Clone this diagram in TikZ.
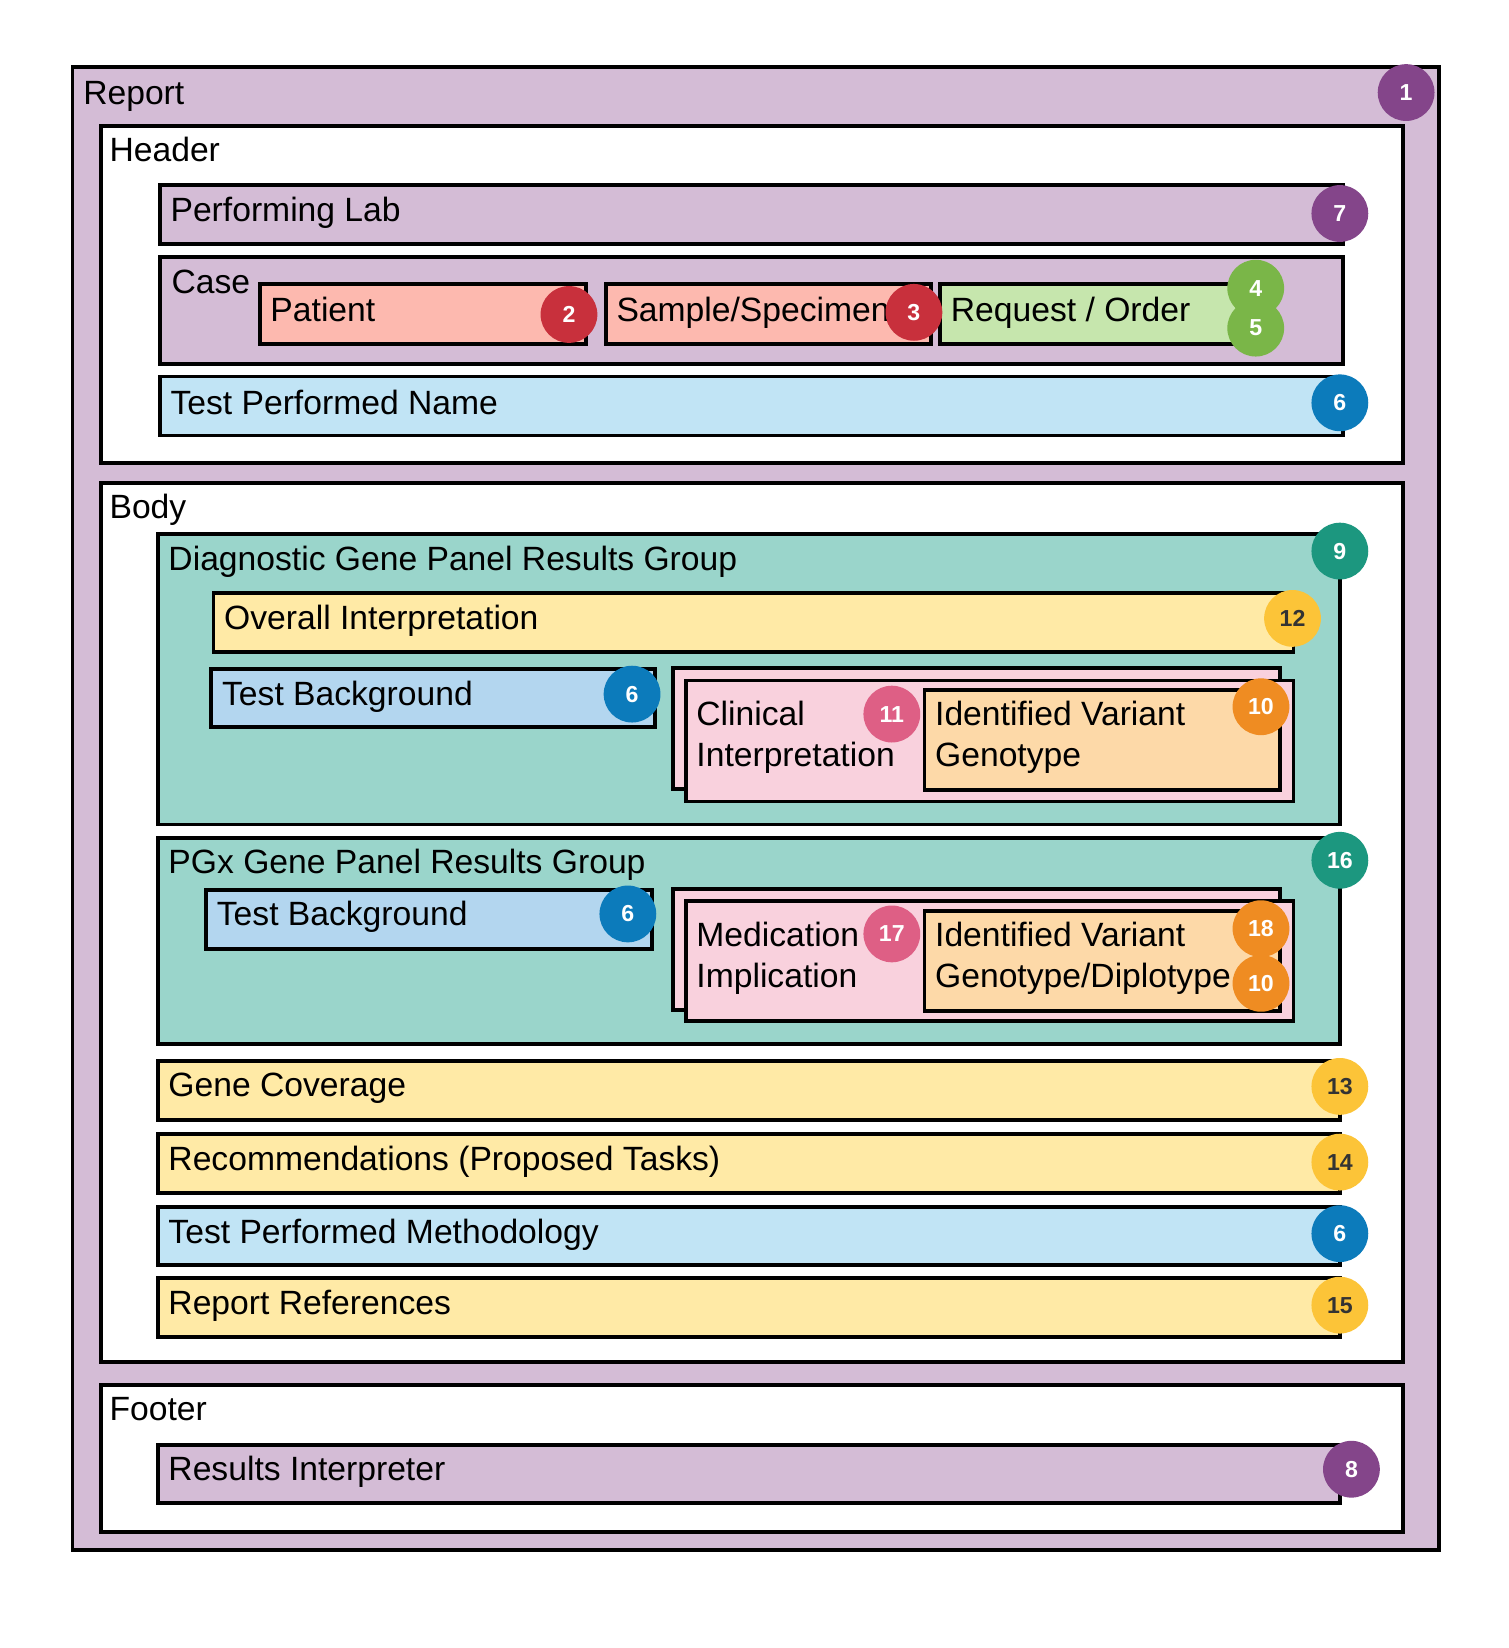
\documentclass[tikz,border=0pt]{standalone}
\usepackage{fontspec}
\setmainfont{Liberation Sans}

\definecolor{lilac}{HTML}{D4BCD6}
\definecolor{lilacdk}{HTML}{84458A}
\definecolor{salmon}{HTML}{FDB9AF}
\definecolor{salmondk}{HTML}{C8303C}
\definecolor{leaf}{HTML}{C6E6AD}
\definecolor{leafdk}{HTML}{7AB648}
\definecolor{sky}{HTML}{C1E4F5}
\definecolor{skybg}{HTML}{B3D6EF}
\definecolor{skydk}{HTML}{0C7BBB}
\definecolor{teal}{HTML}{9AD5CB}
\definecolor{tealdk}{HTML}{1C977F}
\definecolor{butter}{HTML}{FFEAA6}
\definecolor{butterdk}{HTML}{FCC438}
\definecolor{rose}{HTML}{F9D1DD}
\definecolor{rosedk}{HTML}{DE5F85}
\definecolor{peach}{HTML}{FDD9A8}
\definecolor{peachdk}{HTML}{EF8C22}

\tikzset{
  box/.style={draw=black, line width=3.6pt},
  lbl/.style={anchor=base west, inner sep=0pt, font=\fontsize{32}{39}\selectfont},
  lbltwo/.style={anchor=west, inner sep=0pt, align=left, font=\fontsize{32}{39}\selectfont},
  badge/.style={circle, inner sep=0pt, minimum size=54pt, text=white,
    font=\bfseries\fontsize{22}{22}\selectfont},
  badgey/.style={badge, fill=butterdk, text=black!80},
}

\begin{document}
\begin{tikzpicture}[x=1pt,y=-1pt]
\useasboundingbox (0,0) rectangle (1434,1567);

% report
\draw [box, fill=lilac] (69,64) rectangle (1368,1474);
\node [lbl] (report) at (79,99) {Report};

% header
\draw [box, fill=white] (96,120) rectangle (1334,440);
\node [lbl] (header) at (104,154) {Header};

\draw [box, fill=lilac] (152,176) rectangle (1277,232);
\node [lbl] (lab) at (162,211) {Performing Lab};

\draw [box, fill=lilac] (152,244) rectangle (1277,346);
\node [lbl] (case) at (163,279) {Case};

\draw [box, fill=salmon] (247,270) rectangle (557,327);
\node [lbl] (patient) at (257,306) {Patient};

\draw [box, fill=salmon] (576,270) rectangle (885,327);
\node [lbl] (sample) at (586,306) {Sample/Specimen};

\draw [box, fill=leaf] (894,270) rectangle (1194,327);
\node [lbl] (order) at (904,306) {Request / Order};

\draw [box, fill=sky] (152,358) rectangle (1277,414);
\node [lbl] (testname) at (162,394) {Test Performed Name};

% body
\draw [box, fill=white] (96,459) rectangle (1334,1295);
\node [lbl] (body) at (104,493) {Body};

  % diagnostic group
\draw [box, fill=teal] (150,508) rectangle (1274,784);
\node [lbl] (diag) at (160,542) {Diagnostic Gene Panel Results Group};

\draw [box, fill=butter] (203,564) rectangle (1230,620);
\node [lbl] (overall) at (213,599) {Overall Interpretation};

\draw [box, fill=skybg] (201,636) rectangle (623,691);
\node [lbl] (bgdiag) at (211,671) {Test Background};

\draw [box, fill=rose] (640,635) rectangle (1217,750);
\draw [box, fill=rose] (652,647) rectangle (1230,762);
\node [lbltwo] (clinical) at (662,701) {Clinical\\Interpretation};

\draw [box, fill=peach] (879,656) rectangle (1217,751);
\node [lbltwo] (variant) at (889,701) {Identified Variant\\Genotype};

  % pgx group
\draw [box, fill=teal] (150,797) rectangle (1274,993);
\node [lbl] (pgx) at (160,831) {PGx Gene Panel Results Group};

\draw [box, fill=skybg] (196,846) rectangle (620,902);
\node [lbl] (bgpgx) at (206,880) {Test Background};

\draw [box, fill=rose] (640,845) rectangle (1217,960);
\draw [box, fill=rose] (652,857) rectangle (1230,971);
\node [lbltwo] (medication) at (662,911) {Medication\\Implication};

\draw [box, fill=peach] (879,866) rectangle (1217,961);
\node [lbltwo] (diplotype) at (889,911) {Identified Variant\\Genotype/Diplotype};

  % other sections
\draw [box, fill=butter] (150,1009) rectangle (1274,1065);
\node [lbl] (coverage) at (160,1043) {Gene Coverage};

\draw [box, fill=butter] (150,1078) rectangle (1274,1134);
\node [lbl] (tasks) at (160,1113) {Recommendations (Proposed Tasks)};

\draw [box, fill=sky] (150,1148) rectangle (1274,1203);
\node [lbl] (method) at (160,1182) {Test Performed Methodology};

\draw [box, fill=butter] (150,1215) rectangle (1274,1271);
\node [lbl] (refs) at (160,1250) {Report References};

% footer
\draw [box, fill=white] (96,1317) rectangle (1334,1457);
\node [lbl] (footer) at (104,1351) {Footer};

\draw [box, fill=lilac] (150,1374) rectangle (1274,1429);
\node [lbl] (interpreter) at (160,1408) {Results Interpreter};

% numbered badges
\node [badge, fill=lilacdk] (b1) at (1337,88) {1};
\node [badge, fill=lilacdk] (b7) at (1274,203) {7};
\node [badge, fill=salmondk] (b2) at (541,299) {2};
\node [badge, fill=salmondk] (b3) at (869,297) {3};
\node [badge, fill=leafdk] (b4) at (1194,274) {4};
\node [badge, fill=leafdk] (b5) at (1194,312) {5};
\node [badge, fill=skydk] (b6a) at (1274,383) {6};
\node [badge, fill=tealdk] (b9) at (1274,524) {9};
\node [badgey] (b12) at (1229,588) {12};
\node [badge, fill=skydk] (b6b) at (601,660) {6};
\node [badge, fill=rosedk] (b11) at (848,679) {11};
\node [badge, fill=peachdk] (b10a) at (1199,672) {10};
\node [badge, fill=tealdk] (b16) at (1274,818) {16};
\node [badge, fill=skydk] (b6c) at (597,869) {6};
\node [badge, fill=rosedk] (b17) at (848,888) {17};
\node [badge, fill=peachdk] (b18) at (1199,883) {18};
\node [badge, fill=peachdk] (b10b) at (1199,935) {10};
\node [badgey] (b13) at (1274,1033) {13};
\node [badgey] (b14) at (1274,1105) {14};
\node [badge, fill=skydk] (b6d) at (1274,1173) {6};
\node [badgey] (b15) at (1274,1241) {15};
\node [badge, fill=lilacdk] (b8) at (1285,1397) {8};

\end{tikzpicture}
\end{document}
